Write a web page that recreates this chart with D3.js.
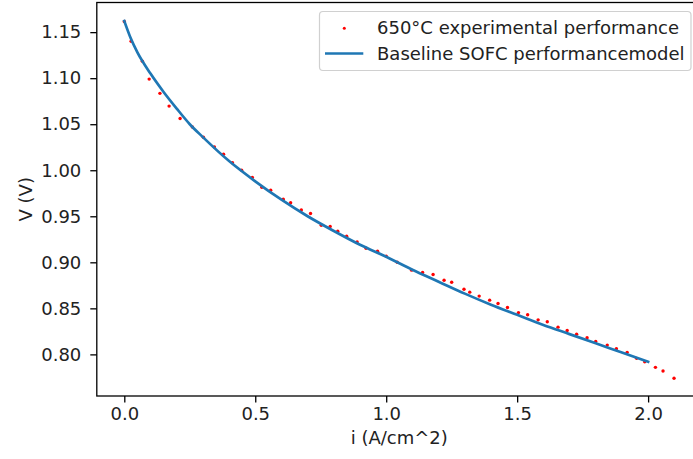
<!DOCTYPE html>
<html>
<head>
<meta charset="utf-8">
<script src="https://cdn.jsdelivr.net/npm/d3@7"></script>
<style>
  html, body { margin: 0; padding: 0; background: #fff; }
  svg { display: block; }
  text { font-family: "DejaVu Sans", sans-serif; }
</style>
</head>
<body>
<svg id="chart" width="693" height="459"></svg>
<script>
// ---- data ----
const expI = [0.000, 0.026, 0.069, 0.095, 0.136, 0.171, 0.213, 0.260, 0.302, 0.344,
  0.379, 0.413, 0.448, 0.489, 0.525, 0.559, 0.607, 0.635, 0.676, 0.711,
  0.752, 0.786, 0.815, 0.849, 0.889, 0.923, 0.967, 1.000, 1.042, 1.097,
  1.139, 1.179, 1.221, 1.250, 1.297, 1.319, 1.355, 1.395, 1.427, 1.463,
  1.505, 1.540, 1.580, 1.615, 1.656, 1.691, 1.727, 1.767, 1.800, 1.844,
  1.879, 1.920, 1.956, 1.987, 2.028, 2.057, 2.099];
const expV = [1.1616, 1.1401, 1.1185, 1.0990, 1.0835, 1.0697, 1.0562, 1.0469, 1.0358, 1.0252,
  1.0173, 1.0081, 1.0000, 0.9922, 0.9815, 0.9783, 0.9685, 0.9647, 0.9569, 0.9530,
  0.9403, 0.9389, 0.9338, 0.9284, 0.9222, 0.9153, 0.9121, 0.9067, 0.9001, 0.8915,
  0.8890, 0.8868, 0.8806, 0.8784, 0.8708, 0.8676, 0.8633, 0.8589, 0.8553, 0.8510,
  0.8454, 0.8430, 0.8375, 0.8354, 0.8296, 0.8260, 0.8220, 0.8180, 0.8141, 0.8101,
  0.8061, 0.8022, 0.7957, 0.7920, 0.7859, 0.7819, 0.7740];

const modelI = [0, 0.025, 0.05, 0.1, 0.15, 0.2, 0.25, 0.3, 0.4, 0.5, 0.6, 0.7, 0.8, 0.9,
  1.0, 1.1, 1.2, 1.3, 1.4, 1.5, 1.6, 1.7, 1.8, 1.9, 2.0];
const modelV = [1.162, 1.143, 1.128, 1.105, 1.085, 1.067, 1.050, 1.036, 1.010, 0.988, 0.968, 0.950, 0.934, 0.919,
  0.906, 0.892, 0.879, 0.866, 0.854, 0.843, 0.832, 0.822, 0.812, 0.802, 0.792];

const xTicks = [0.0, 0.5, 1.0, 1.5, 2.0];
const yTicks = [0.80, 0.85, 0.90, 0.95, 1.00, 1.05, 1.10, 1.15];

const seriesNames = ["650°C experimental performance", "Baseline SOFC performancemodel"];
const xLabel = "i (A/cm^2)";
const yLabel = "V (V)";

// ---- layout ----
const svg = d3.select("#chart");
const plot = { left: 96.8, right: 701.8, top: 2.5, bottom: 396 };

const x = d3.scaleLinear().domain([-0.105, 2.205]).range([plot.left, plot.right]);
const y = d3.scaleLinear().domain([0.7548, 1.1822]).range([plot.bottom, plot.top]);

const expData = expI.map((v, k) => ({ i: v, V: expV[k] }));
const modelData = modelI.map((v, k) => ({ i: v, V: modelV[k] }));

// points
svg.append("g").selectAll("circle").data(expData).join("circle")
  .attr("cx", d => x(d.i)).attr("cy", d => y(d.V)).attr("r", 1.7)
  .attr("fill", "#ff0000");

// model line
const line = d3.line().x(d => x(d.i)).y(d => y(d.V)).curve(d3.curveMonotoneX);
svg.append("path").datum(modelData)
  .attr("d", line).attr("fill", "none")
  .attr("stroke", "#1f77b4").attr("stroke-width", 2.7).attr("stroke-linecap", "square");

// axes
const xAxis = d3.axisBottom(x).tickValues(xTicks).tickFormat(d3.format(".1f"))
  .tickSize(6.5).tickPadding(5);
const yAxis = d3.axisLeft(y).tickValues(yTicks).tickFormat(d3.format(".2f"))
  .tickSize(6.5).tickPadding(9);

const gx = svg.append("g").attr("transform", `translate(0,${plot.bottom})`).call(xAxis);
const gy = svg.append("g").attr("transform", `translate(${plot.left},0)`).call(yAxis);
[gx, gy].forEach(g => {
  g.select(".domain").remove();
  g.selectAll(".tick line").attr("stroke", "#000").attr("stroke-width", 1.3);
  g.selectAll(".tick text").attr("fill", "#222").style("font-size", "18px")
    .style("font-family", "'DejaVu Sans', sans-serif");
});

// frame
svg.append("rect")
  .attr("x", plot.left).attr("y", plot.top)
  .attr("width", plot.right - plot.left).attr("height", plot.bottom - plot.top)
  .attr("fill", "none").attr("stroke", "#000").attr("stroke-width", 1.3);

// axis labels
svg.append("text").attr("x", (plot.left + plot.right) / 2).attr("y", 444)
  .attr("text-anchor", "middle").attr("fill", "#222").style("font-size", "18px")
  .text(xLabel);
svg.append("text")
  .attr("transform", `translate(32,${(plot.top + plot.bottom) / 2}) rotate(-90)`)
  .attr("text-anchor", "middle").attr("fill", "#222").style("font-size", "18px")
  .text(yLabel);

// legend
const lg = svg.append("g");
lg.append("rect").attr("x", 319.5).attr("y", 11.5).attr("width", 371.5).attr("height", 59)
  .attr("rx", 3.5).attr("fill", "#fff").attr("fill-opacity", 0.8)
  .attr("stroke", "#d0d0d0").attr("stroke-width", 1.2);
lg.append("circle").attr("cx", 344.3).attr("cy", 28.3).attr("r", 1.5).attr("fill", "#ff0000");
lg.append("line").attr("x1", 325).attr("x2", 363.3).attr("y1", 53.5).attr("y2", 53.5)
  .attr("stroke", "#1f77b4").attr("stroke-width", 2.7);
lg.selectAll("text.lt").data(seriesNames).join("text").attr("class", "lt")
  .attr("x", 377).attr("y", (d, k) => 34 + k * 25.5)
  .attr("fill", "#222").style("font-size", "18px").text(d => d);
</script>
</body>
</html>
